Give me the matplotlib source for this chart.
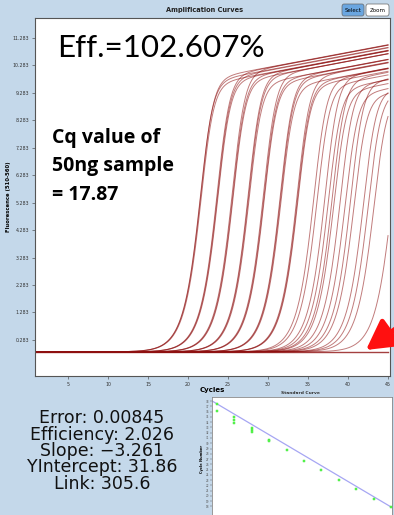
import numpy as np
import matplotlib

matplotlib.use("Agg")
import matplotlib.pyplot as plt
from matplotlib.patches import FancyBboxPatch

# --- data ------------------------------------------------------------------
# midpoint cycle of each amplification curve and its plateau height
amp_mid = [21.55, 21.6, 21.65, 23.65, 23.7, 23.75, 25.55, 25.6, 25.65,
           27.55, 27.6, 27.65, 29.45, 29.5, 29.55, 31.55, 31.6, 31.65,
           33.65, 33.7, 33.75, 35.75, 36.15, 37.15, 37.55, 38.05, 38.25,
           39.05, 39.65, 40.35, 40.75, 41.95, 42.55, 43.25, 45.5]
amp_top = [9.8, 9.9, 9.7, 10.0, 9.9, 9.8, 10.1, 9.9, 9.8,
           10.0, 9.9, 9.7, 10.0, 9.8, 9.7, 9.9, 9.8, 9.6,
           9.9, 9.7, 9.6, 9.8, 9.6, 9.9, 9.5, 9.8, 9.4,
           9.6, 9.3, 9.7, 9.2, 9.4, 9.3, 9.2, 9.5]
amp_base = -0.15
amp_drift = 0.055
amp_rate = 0.72
amp_shape = 2.0

# standard curve: log quantity vs measured Cq
std_log_qty = [-1.73, -1.73, -1.13, -1.13, -1.13, -0.53, -0.53, -0.53,
               0.08, 0.08, 0.68, 1.28, 1.88, 2.48, 3.09, 3.69, 4.29]
std_cq = [37.5, 36.2, 35.0, 34.5, 33.9, 32.9, 32.5, 32.2,
          30.7, 30.5, 28.7, 26.7, 24.9, 23.0, 21.3, 19.4, 17.87]
fit_slope = -3.261
fit_intercept = 31.86

stats_lines = ["Error: 0.00845", "Efficiency: 2.026", "Slope: \u22123.261",
               "YIntercept: 31.86", "Link: 305.6"]
note_lines = ["Cq value of", "50ng sample", "= 17.87"]

y_ticks = [0.283 + i for i in range(12)]
x_ticks = [5, 10, 15, 20, 25, 30, 35, 40, 45]

_BG = "#c4d8ea"
_CURVE = "#8e1010"

W, H = 394, 515


def fx(px):
    return px / W


def fy(py):
    return 1 - py / H


fig = plt.figure(figsize=(W / 100, H / 100), dpi=100)
fig.patch.set_facecolor(_BG)

# --- amplification curves ---------------------------------------------------
ax = fig.add_axes([fx(35), fy(376), fx(390) - fx(35), fy(18) - fy(376)])
ax.set_facecolor("white")
cyc = np.linspace(1, 45, 441)
for m, top in zip(amp_mid, amp_top):
    grow = (1 + amp_shape * np.exp(-(cyc - m) / amp_rate)) ** (-1 / amp_shape)
    val = amp_base + (top + amp_drift * (cyc - m)) * grow
    ax.plot(cyc, val, color=_CURVE, lw=0.7, alpha=0.55)
ax.plot([1, 45], [amp_base, amp_base], color=_CURVE, lw=1.0, alpha=0.8)

ax.set_xlim(0.875, 45.25)
ax.set_ylim(-1.03, 12.01)
ax.set_xticks(x_ticks)
ax.set_yticks(y_ticks)
ax.set_yticklabels([f"{v:.3f}" for v in y_ticks])
ax.tick_params(labelsize=3.4, length=2.5, width=0.4, colors="#333333", pad=1.5)
for s in ax.spines.values():
    s.set_color("#555555")
    s.set_linewidth(0.8)
ax.set_xlabel("Cycles", fontsize=5, fontweight="bold", labelpad=0.5)
ax.set_ylabel("Fluorescence (510-560)", fontsize=3.8, fontweight="bold", labelpad=1)

fig.text(fx(205), fy(10), "Amplification Curves", fontsize=4.8, fontweight="bold",
         ha="center", va="center", color="#222222")

# buttons
for x0, w, label, fc in [(342, 22, "Select", "#6aa6e0"), (366, 23, "Zoom", "white")]:
    fig.patches.append(FancyBboxPatch((fx(x0), fy(16)), fx(w), fy(4) - fy(16),
                                      boxstyle="round,pad=0,rounding_size=0.005",
                                      transform=fig.transFigure, fc=fc, ec="#666666", lw=0.5))
    fig.text(fx(x0 + w / 2), fy(10), label, fontsize=4, ha="center", va="center")

# annotations
fig.text(fx(57), fy(57), "Eff.=102.607%", fontsize=22.6, family="Lato", color="black",
         ha="left", va="baseline")
for i, line in enumerate(note_lines):
    fig.text(fx(52), fy(143 + 28.5 * i), line, fontsize=14, family="Open Sans",
             fontweight="bold", ha="left", va="baseline")

ax.annotate("", xy=(fx(366), fy(350)), xytext=(fx(405), fy(322)),
            xycoords="figure fraction", textcoords="figure fraction",
            arrowprops=dict(arrowstyle="-|>,head_length=1.8,head_width=1.0",
                            color="#ff1010", lw=3.5, shrinkA=0, shrinkB=0),
            annotation_clip=False)

# --- fit statistics ---------------------------------------------------------
fig.text(fx(102), fy(451), "\n".join(stats_lines), fontsize=12.5, family="DejaVu Sans",
         ha="center", va="center", multialignment="center", linespacing=0.89,
         color="#111111")

# --- standard curve ---------------------------------------------------------
ax2 = fig.add_axes([fx(212), fy(520), fx(392) - fx(212), fy(397) - fy(520)])
ax2.set_facecolor("white")
xs = np.array([-1.9, 4.35])
ax2.plot(xs, fit_slope * xs + fit_intercept, color="#9090f0", lw=0.9, alpha=0.8)
ax2.scatter(std_log_qty, std_cq, marker="s", s=3, color="#66ff55", edgecolors="#33dd33",
            linewidths=0.3, zorder=3)
ax2.set_xlim(-1.90, 4.32)
ax2.set_ylim(15.4, 38.8)
ax2.set_xticks([])
ax2.set_yticks(range(18, 39))
ax2.tick_params(axis="y", labelsize=2, length=1.5, width=0.3, pad=0.5, colors="#555555")
for s in ax2.spines.values():
    s.set_color("#888888")
    s.set_linewidth(0.6)
ax2.set_ylabel("Cycle Number", fontsize=2.6, fontweight="bold", labelpad=1)
fig.text(fx(300), fy(393), "Standard Curve", fontsize=3.2, fontweight="bold",
         ha="center", va="center", color="#333333")

fig.savefig("out.png", dpi=100, facecolor=_BG)
